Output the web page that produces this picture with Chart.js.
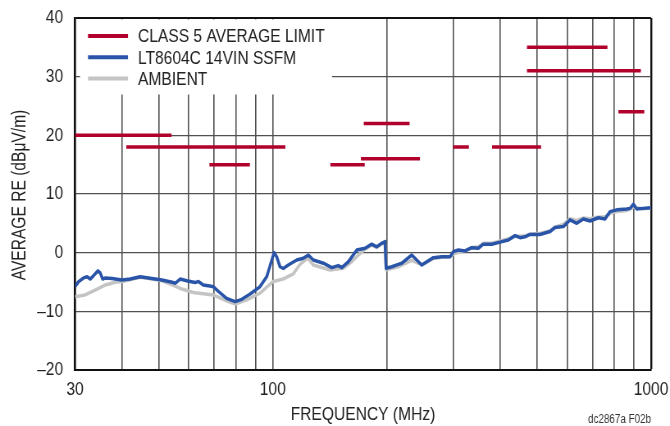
<!DOCTYPE html>
<html>
<head>
<meta charset="utf-8">
<script src="https://cdn.jsdelivr.net/npm/chart.js@4/dist/chart.umd.min.js"></script>
<style>
  html, body { margin: 0; padding: 0; background: #fff; }
  #reChart { display: block; }
</style>
</head>
<body>
<!-- drawn 817 wide and shown at 670 so the text comes out condensed like the original -->
<canvas id="reChart" width="817" height="426" style="width:670px;height:426px"></canvas>
<script>
// limit segments (MHz start, MHz end, dBuV/m)
const limitStart = [30, 41, 76, 68, 142, 171, 174, 300, 380, 420, 470, 470, 820, 860];
const limitEnd   = [54, 88, 108, 87, 175, 245, 230, 330, 450, 512, 767, 940, 960, 960];
const limitLevel = [20, 18, 18, 15, 15, 16, 22, 18, 18, 18, 35, 31, 24, 24];

// LT8604C 14VIN SSFM
const ssfmFreq = [30, 30.7, 31.6, 32.3, 32.9, 33.6, 34.5, 35, 35.5, 36.1, 37.6, 39.9, 42, 44.6, 47.9,
  50.9, 54.2, 55.3, 56.9, 59.2, 62.3, 63.6, 65.5, 68.2, 69.6, 71.8, 75.5, 79.5, 82.8, 87.1,
  92.5, 96.4, 99.4, 100.8, 102.4, 104.5, 106.6, 109.9, 115.7, 120.4, 124.2, 128, 136.1, 143.2,
  149, 152.2, 158.4, 166.7, 175.4, 182.6, 188.3, 194.1, 198, 199.3, 206.3, 214.7, 219.2, 233.1,
  247.6, 265.8, 279.7, 294.2, 300.2, 309.4, 322.4, 335.8, 349.5, 360.3, 379.2, 399, 419.7,
  437.1, 450.6, 464.5, 478.8, 508.8, 540.9, 557.6, 586.5, 610.9, 636.3, 662.4, 690, 725.8,
  756, 779.4, 811.8, 862.7, 880.4, 898.1, 916.8, 954.5, 1000];
const ssfmLevel = [-5.8, -4.9, -4.3, -4.1, -4.5, -3.9, -3.1, -3.5, -4.5, -4.3, -4.4, -4.65, -4.5, -4.1, -4.4,
  -4.65, -5.05, -5.2, -4.5, -4.8, -5.1, -4.9, -5.5, -5.7, -5.8, -6.6, -7.8, -8.35, -7.95, -7.05,
  -5.8, -4.1, -1.25, 0, -0.7, -2.4, -2.7, -2.1, -1.25, -0.95, -0.4, -1.25, -1.8, -2.55,
  -2.2, -2.55, -1.55, 0.45, 0.75, 1.45, 1.0, 1.6, 1.9, -2.65, -2.4, -2.0, -1.8, -0.4,
  -2.1, -0.85, -0.7, -0.7, 0.17, 0.45, 0.3, 0.85, 0.75, 1.45, 1.45, 1.8, 2.15,
  2.9, 2.55, 2.7, 3.1, 3.1, 3.6, 4.3, 4.45, 5.6, 5.0, 5.75, 5.4, 5.95,
  5.75, 7.0, 7.3, 7.45, 7.55, 8.25, 7.45, 7.55, 7.65];

// ambient
const ambFreq = [30, 31.9, 33.9, 36.1, 38.3, 39.9, 42, 44.6, 47.9, 50.9, 54.2, 56.9, 61.6, 69.6, 75.5,
  79.5, 85.3, 92.5, 100.3, 106.4, 113.3, 118, 123.6, 128, 141.7, 153.6, 161.7, 168.4, 175.4,
  182.6, 188.3, 194.1, 198, 199.3, 206, 215, 233, 248, 266, 280, 294, 300, 322, 336, 350, 360,
  380, 400, 420, 437, 450, 465, 480, 510, 540, 558, 586, 611, 636, 662, 690, 726, 756, 780,
  812, 862, 880, 898, 917, 955, 1000];
const ambLevel = [-7.5, -7.2, -6.4, -5.5, -5.05, -4.9, -4.6, -4.2, -4.5, -4.8, -5.5, -6.1, -6.8, -7.2, -8.2,
  -8.75, -8.05, -6.9, -4.9, -4.5, -3.6, -2.0, -0.9, -2.1, -2.95, -2.65, -1.55, -0.4, 0.6,
  1.3, 0.9, 1.5, 1.8, -2.9, -2.7, -2.4, -1.3, -2.1, -1.0, -0.8, -0.7, -0.2, 0.3, 0.9, 1.0, 1.6,
  1.6, 2.0, 2.4, 2.8, 2.8, 2.9, 3.2, 3.3, 3.7, 4.4, 4.8, 5.8, 5.5, 5.9, 5.8, 6.1, 6.1, 6.7,
  7.0, 7.2, 7.4, 7.8, 7.6, 7.5, 7.6];

const xGridValues = [30, 40, 50, 60, 70, 80, 90, 100, 200, 300, 400, 500, 600, 700, 800, 900, 1000];
const xTickLabels = { 30: '30', 100: '100', 1000: '1000' };
const yTitle = 'AVERAGE RE (dB\u03bcV/m)';

const K = 670 / 817;   // horizontal squeeze of the canvas
const FONT = "'Liberation Sans', Arial, sans-serif";
const RED = '#b0002b';
const BLUE = '#2a54a8';
const GRAY = '#c4c4c4';
const TEXT = '#222';

function pairs(xs, ys) {
    return xs.map((x, i) => ({ x: x, y: ys[i] }));
}

// one dataset, segments separated by gaps
const limitPoints = [];
limitStart.forEach((s, i) => {
    limitPoints.push({ x: s, y: limitLevel[i] });
    limitPoints.push({ x: limitEnd[i], y: limitLevel[i] });
    limitPoints.push({ x: limitEnd[i], y: null });
});

const legendBox = {
    id: 'legendBox',
    beforeDatasetsDraw(chart) {
        const { ctx, chartArea } = chart;
        ctx.save();
        ctx.fillStyle = '#fff';
        ctx.fillRect(80 / K, chartArea.top + 1.5, 252 / K, 75);
        ctx.font = '19px ' + FONT;
        ctx.textBaseline = 'middle';
        chart.data.datasets.forEach((ds, i) => {
            const y = 36 + i * 21.3;
            ctx.strokeStyle = ds.borderColor;
            ctx.lineWidth = 4;
            ctx.beginPath();
            ctx.moveTo(88 / K, y);
            ctx.lineTo(128 / K, y);
            ctx.stroke();
            ctx.fillStyle = TEXT;
            ctx.fillText(ds.label, 138 / K, y + 1);
        });
        ctx.restore();
    },
    afterDraw(chart) {
        const { ctx, chartArea } = chart;
        ctx.save();
        ctx.font = '12px ' + FONT;
        ctx.fillStyle = '#333';
        ctx.textAlign = 'right';
        ctx.textBaseline = 'middle';
        ctx.fillText('dc2867a F02b', 651 / K, 420);
        ctx.restore();

        // rotated y title, undo the squeeze so glyphs keep the same shape
        ctx.save();
        ctx.translate(20 / K, (chartArea.top + chartArea.bottom) / 2 + 1);
        ctx.scale(1 / K, K);
        ctx.rotate(-Math.PI / 2);
        ctx.font = '19px ' + FONT;
        ctx.fillStyle = TEXT;
        ctx.textAlign = 'center';
        ctx.textBaseline = 'middle';
        ctx.fillText(yTitle, 0, 0);
        ctx.restore();
    }
};

const gridColor = '#505050';

new Chart(document.getElementById('reChart').getContext('2d'), {
    type: 'line',
    data: {
        datasets: [{
            label: 'CLASS 5 AVERAGE LIMIT',
            data: limitPoints,
            borderColor: RED,
            borderWidth: 3.5,
            borderCapStyle: 'butt',
            spanGaps: false,
            pointRadius: 0,
            order: 0
        }, {
            label: 'LT8604C 14VIN SSFM',
            data: pairs(ssfmFreq, ssfmLevel),
            borderColor: BLUE,
            borderWidth: 3.5,
            borderJoinStyle: 'round',
            pointRadius: 0,
            order: 1
        }, {
            label: 'AMBIENT',
            data: pairs(ambFreq, ambLevel),
            borderColor: GRAY,
            borderWidth: 3.5,
            borderJoinStyle: 'round',
            pointRadius: 0,
            order: 2
        }]
    },
    options: {
        responsive: false,
        animation: false,
        devicePixelRatio: 1,
        layout: { padding: { top: 18, right: 817 - 651 / K, bottom: 0, left: 0 } },
        plugins: {
            legend: { display: false },
            tooltip: { enabled: false }
        },
        scales: {
            x: {
                type: 'logarithmic',
                min: 30,
                max: 1000,
                afterBuildTicks(scale) {
                    scale.ticks = xGridValues.map(v => ({ value: v }));
                },
                afterFit(scale) {
                    scale.height = 56;
                    scale.paddingLeft = 0;
                    scale.paddingRight = 0;
                },
                ticks: {
                    autoSkip: false,
                    maxRotation: 0,
                    padding: 8,
                    color: TEXT,
                    font: { family: FONT, size: 19 },
                    callback: v => xTickLabels[v] || ''
                },
                grid: {
                    drawTicks: false,
                    color: ctx => ctx.tick && ctx.tick.value === 1000 ? '#111' : gridColor,
                    lineWidth: ctx => ctx.tick && ctx.tick.value === 1000 ? 2.4 : 1.6
                },
                border: { color: '#111', width: 2 },
                title: {
                    display: true,
                    text: 'FREQUENCY (MHz)',
                    color: TEXT,
                    font: { family: FONT, size: 19 },
                    padding: { top: 0, bottom: 0 }
                }
            },
            y: {
                min: -20,
                max: 40,
                afterFit(scale) {
                    scale.width = 75 / K;
                    scale.paddingTop = 0;
                    scale.paddingBottom = 0;
                },
                ticks: {
                    stepSize: 10,
                    padding: 14.5,
                    color: TEXT,
                    font: { family: FONT, size: 19 },
                    callback: v => v < 0 ? '\u2013' + Math.abs(v) : String(v)
                },
                grid: {
                    drawTicks: false,
                    color: ctx => ctx.tick && ctx.tick.value === 40 ? '#111' : gridColor,
                    lineWidth: ctx => ctx.tick && ctx.tick.value === 40 ? 2 : 1.3
                },
                border: { color: '#111', width: 2.4 },
                title: { display: false }
            }
        }
    },
    plugins: [legendBox]
});
</script>
</body>
</html>
